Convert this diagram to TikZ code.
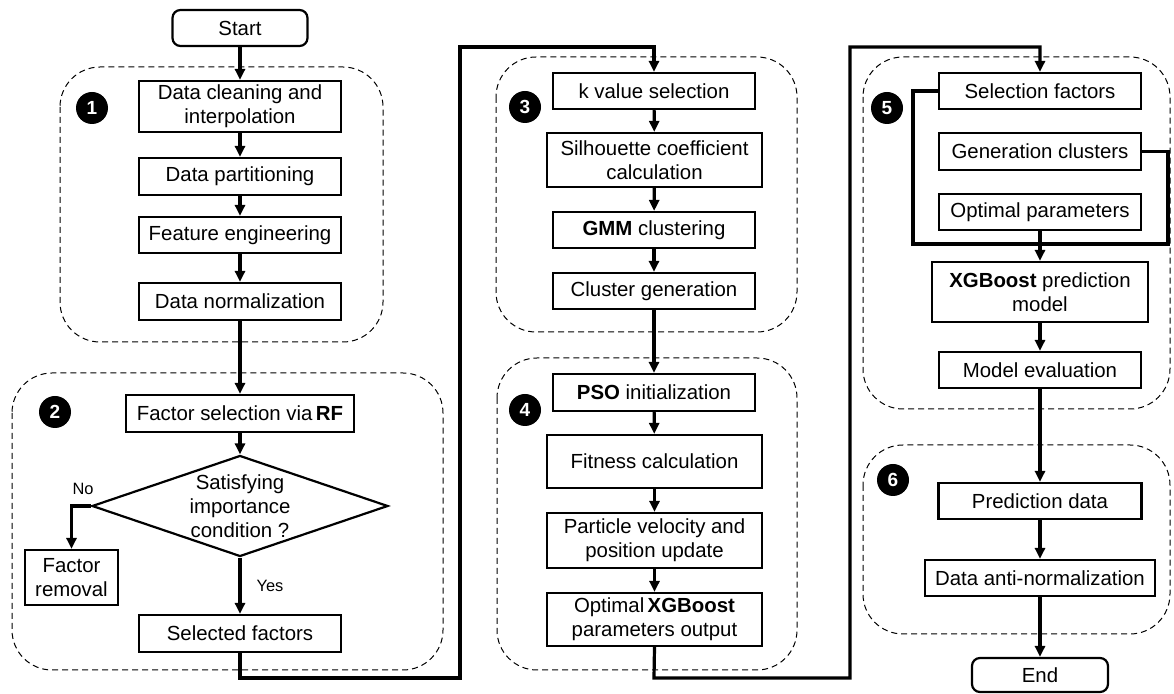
\documentclass[tikz,border=0pt]{standalone}
\usepackage{fontspec}
\setmainfont{Liberation Sans}
\usetikzlibrary{shapes.geometric,arrows.meta}
\begin{document}
\begin{tikzpicture}[x=0.5pt,y=-0.5pt,
  every node/.style={font=\fontsize{10.2}{12}\selectfont},
  box/.style={draw, line width=1.1pt, inner sep=0pt, align=center},
  term/.style={box, rounded corners=4pt},
  grp/.style={draw, dash pattern=on 3pt off 2pt, line width=0.5pt, rounded corners=20pt},
  num/.style={circle, fill=black, text=white, inner sep=0pt, minimum size=16pt, font=\fontsize{9.5}{10}\selectfont\bfseries},
  flow/.style={line width=1.6pt, -{Triangle[width=5pt,length=5.5pt]}},
  link/.style={line width=1.6pt},
  lbl/.style={font=\fontsize{8.2}{10}\selectfont}
]
\useasboundingbox (0,0) rectangle (1174,694);
% groups
\draw[grp] (60,67) rectangle (383,342);
\draw[grp] (12,373) rectangle (443,670);
\draw[grp] (496,57) rectangle (797,332);
\draw[grp] (497,358) rectangle (797,670);
\draw[grp] (863,57) rectangle (1170,409);
\draw[grp] (863,445) rectangle (1170,634);
% numbers
\node[num] (n1) at (92,108) {1};
\node[num] (n2) at (55,412) {2};
\node[num] (n3) at (525,107) {3};
\node[num] (n4) at (525,410) {4};
\node[num] (n5) at (887,108) {5};
\node[num] (n6) at (893,480) {6};
% column 1
\node[term, minimum width=67.5pt, minimum height=18pt] (start) at (240,28) {Start};
\node[box, minimum width=101pt, minimum height=25.5pt] (dc) at (240,106.5) {Data cleaning and\\interpolation};
\node[box, minimum width=101pt, minimum height=18.5pt] (dp) at (240,176.5) {Data partitioning};
\node[box, minimum width=101pt, minimum height=18pt] (fe) at (240,235) {Feature engineering};
\node[box, minimum width=101pt, minimum height=18.5pt] (dn) at (240,301.5) {Data normalization};
\node[box, minimum width=114pt, minimum height=18.5pt] (fs) at (240,413.5) {Factor selection via\,\textbf{RF}};
\node[diamond, draw, line width=1.1pt, inner sep=0pt, minimum width=148pt, minimum height=50.5pt] (dia) at (240,506) {};
\node[align=center, inner sep=0pt] (diat) at (240,506) {Satisfying\\importance\\condition ?};
\node[box, minimum width=46.5pt, minimum height=27.5pt] (fr) at (71.5,577.5) {Factor\\removal};
\node[box, minimum width=101pt, minimum height=18.5pt] (sf) at (240,633.5) {Selected factors};
\node[lbl] (no) at (83,489) {No};
\node[lbl] (yes) at (270,586) {Yes};
% column 2
\node[box, minimum width=101pt, minimum height=18pt] (kv) at (654,91) {k value selection};
\node[box, minimum width=107.5pt, minimum height=27pt] (sil) at (654.5,160) {Silhouette coefficient\\calculation};
\node[box, minimum width=101pt, minimum height=18pt] (gmm) at (654,230) {\textbf{GMM} clustering};
\node[box, minimum width=101pt, minimum height=18pt] (cg) at (654,291) {Cluster generation};
\node[box, minimum width=101pt, minimum height=18.5pt] (pso) at (654,392.5) {\textbf{PSO} initialization};
\node[box, minimum width=107.5pt, minimum height=26.5pt] (fit) at (654.5,461.5) {Fitness calculation};
\node[box, minimum width=107.5pt, minimum height=27.5pt] (pv) at (654.5,540.5) {Particle velocity and\\position update};
\node[box, minimum width=107.5pt, minimum height=26.5pt] (ox) at (654.5,619.5) {Optimal\,\textbf{XGBoost}\\parameters output};
% column 3
\node[box, minimum width=101pt, minimum height=18pt] (sel) at (1040,91) {Selection factors};
\node[box, minimum width=101pt, minimum height=18.5pt] (gen) at (1040,151.5) {Generation clusters};
\node[box, minimum width=101pt, minimum height=18pt] (opt) at (1040,212) {Optimal parameters};
\node[box, minimum width=108pt, minimum height=30pt] (xgb) at (1040,292) {\textbf{XGBoost} prediction\\model};
\node[box, minimum width=101pt, minimum height=18pt] (me) at (1040,370) {Model evaluation};
\node[box, minimum width=101.5pt, minimum height=18pt] (pd) at (1040,501) {Prediction data};
\node[box, minimum width=115pt, minimum height=18pt] (dan) at (1040,578) {Data anti-normalization};
\node[term, minimum width=68pt, minimum height=17pt] (end) at (1040,675) {End};
% connectors column 1
\draw[flow] (start) -- (dc);
\draw[flow] (dc) -- (dp);
\draw[flow] (dp) -- (fe);
\draw[flow] (fe) -- (dn);
\draw[flow] (dn) -- (fs);
\draw[flow] (fs) -- (dia.north);
\draw[flow] (dia.west) -| (fr.north);
\draw[flow] (dia.south) -- (sf.north);
\draw[flow] (sf.south) -- (240,678) -- (460,678) -- (460,47) -- (654,47) -- (kv.north);
% column 2
\draw[flow] (kv) -- (sil);
\draw[flow] (sil) -- (gmm);
\draw[flow] (gmm) -- (cg);
\draw[flow] (cg) -- (pso);
\draw[flow] (pso) -- (fit);
\draw[flow] (fit) -- (pv);
\draw[flow] (pv) -- (ox);
\draw[flow] (ox.south) -- (654,678) -- (850,678) -- (850,47) -- (1040,47) -- (sel.north);
% column 3
\draw[link] (sel.west) -- (913,91) -- (913,244) -- (1168,244) -- (1168,151.5) -- (gen.east);
\draw[flow] (opt) -- (xgb);
\draw[flow] (xgb) -- (me);
\draw[flow] (me) -- (pd);
\draw[flow] (pd) -- (dan);
\draw[flow] (dan) -- (end);
\end{tikzpicture}
\end{document}
